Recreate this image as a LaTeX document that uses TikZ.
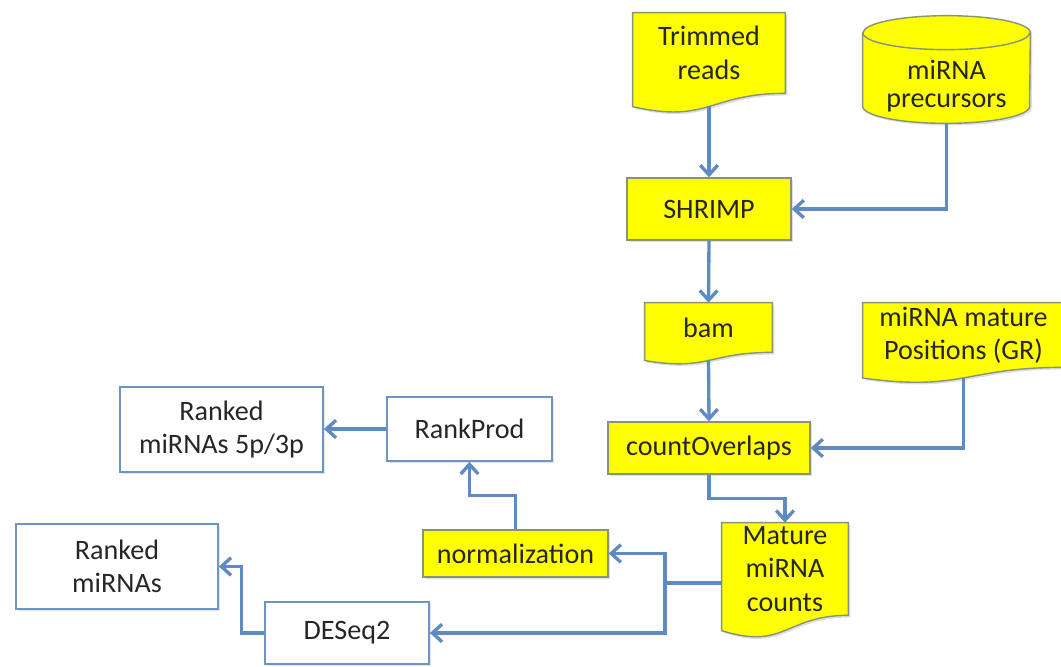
\documentclass[tikz,border=0pt]{standalone}
\usepackage{fontspec}
\setmainfont{Carlito}
\usetikzlibrary{arrows.meta,calc,backgrounds,shadows}
\definecolor{arrblue}{RGB}{95,138,196}
\definecolor{boxblue}{RGB}{110,148,198}
\definecolor{ybord}{RGB}{135,148,120}
\definecolor{yfill}{RGB}{255,255,0}
\tikzset{
  arr/.style={draw=arrblue, line width=1.9pt, -{Straight Barb[length=5.5pt,width=10pt]}},
  ln/.style={draw=arrblue, line width=1.9pt},
  txt/.style={font=\fontsize{16}{19}\selectfont, align=center, text=black!85, inner sep=0pt},
  ybox/.style={txt, rectangle, fill=yfill, draw=ybord, line width=0.8pt, drop shadow={shadow xshift=1.2pt, shadow yshift=-1.2pt, opacity=0.25}},
  wbox/.style={txt, rectangle, fill=white, draw=boxblue, line width=1pt, drop shadow={shadow xshift=1.2pt, shadow yshift=-1.2pt, opacity=0.2}},
  area/.style={txt, rectangle, draw=none},
  docfill/.style={fill=yfill, draw=ybord, line width=0.8pt, drop shadow={shadow xshift=1.2pt, shadow yshift=-1.2pt, opacity=0.25}},
}
\newcommand\docshape[1]{%
  \filldraw[docfill] let \p1=(#1.north west), \p2=(#1.south east) in
    (\x1,\y1) -- (\x2,\y1) -- (\x2,\y2)
    .. controls ({(\x1+\x2)/2},\y2) and ({(\x1+\x2)/2},{\y1+1.380*(\y2-\y1)}) ..
    (\x1,{\y1+1.165*(\y2-\y1)}) -- cycle;
  \path let \p1=(#1.north west), \p2=(#1.south east) in
    coordinate (#1-b) at ({(\x1+\x2)/2},{\y1+1.162*(\y2-\y1)});
}
\begin{document}
\begin{tikzpicture}[x=0.02cm, y=0.02cm]
\useasboundingbox (0,0) rectangle (1061,-666);

% document-shaped text areas
\node[area, minimum width=152*0.02cm, minimum height=80*0.02cm] (trim) at (709,-53) {Trimmed\\reads};
\node[area, minimum width=127*0.02cm, minimum height=49*0.02cm] (bam) at (708.5,-327.5) {bam};
\node[area, minimum width=201*0.02cm, minimum height=64*0.02cm] (pos) at (963.5,-335) {miRNA mature\\Positions (GR)};
\node[area, minimum width=126*0.02cm, minimum height=92*0.02cm] (mature) at (785,-569) {Mature\\miRNA\\counts};
% cylinder body area (below the top ellipse)
\node[area, minimum width=167*0.02cm, minimum height=73*0.02cm] (prec) at (946.5,-86.5) {miRNA\\[-3pt]precursors};

\begin{scope}[on background layer]
  \docshape{trim}
  \docshape{bam}
  \docshape{pos}
  \docshape{mature}
  \filldraw[docfill] let \p1=(prec.north west), \p2=(prec.south east) in
    (\x1,\y1+0.34cm) -- (\x1,\y2+0.34cm)
    arc[start angle=180, end angle=360, x radius=1.67cm, y radius=0.34cm]
    -- (\x2,\y1+0.34cm)
    arc[start angle=0, end angle=180, x radius=1.67cm, y radius=0.34cm] -- cycle;
  \draw[draw=ybord, line width=0.8pt] let \p1=(prec.north west) in
    (\x1,\y1+0.34cm) arc[start angle=180, end angle=360, x radius=1.67cm, y radius=0.34cm];
\end{scope}

% yellow process boxes
\node[ybox, minimum width=164*0.02cm, minimum height=62*0.02cm] (shrimp) at (709,-209) {SHRIMP};
\node[ybox, minimum width=202*0.02cm, minimum height=52*0.02cm] (count) at (709,-448) {countOverlaps};
\node[ybox, minimum width=185*0.02cm, minimum height=47*0.02cm] (norm) at (515.5,-553.5) {normalization};

% white boxes
\node[wbox, minimum width=165*0.02cm, minimum height=64*0.02cm] (rankprod) at (469.5,-429) {RankProd};
\node[wbox, minimum width=203*0.02cm, minimum height=85*0.02cm] (rk53) at (221.5,-429.5) {Ranked\\miRNAs 5p/3p};
\node[wbox, minimum width=202*0.02cm, minimum height=85*0.02cm] (rkmi) at (117,-566.5) {Ranked\\miRNAs};
\node[wbox, minimum width=164*0.02cm, minimum height=62*0.02cm] (deseq) at (347,-633) {DESeq2};

\coordinate (split) at (665,-583);

% connectors
\draw[arr] (trim-b) -- (shrimp.north);
\draw[arr] (prec.south) |- (shrimp.east);
\draw[arr] (shrimp.south) -- (bam.north);
\draw[arr] (bam-b) -- (count.north);
\draw[arr] (pos-b) |- (count.east);
\draw[arr] (count.south) |- ($(count.south)!0.5!(mature.north)$) -| (mature.north);
\draw[ln] (mature.west |- split) -- (split);
\draw[arr] (split) |- (norm.east);
\draw[arr] (split) |- (deseq.east);
\draw[arr] (norm.north) |- ($(norm.north)!0.5!(rankprod.south)$) -| (rankprod.south);
\draw[arr] (rankprod.west) -- (rankprod.west -| rk53.east);
\draw[arr] (deseq.west) -| ($(deseq.west)!0.5!(rkmi.east)$) |- (rkmi.east);
\end{tikzpicture}
\end{document}
